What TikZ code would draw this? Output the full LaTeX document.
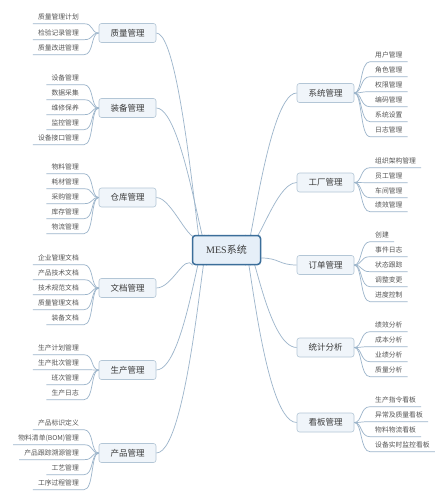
\documentclass[tikz,border=0pt]{standalone}
\usepackage{fontspec}
\usetikzlibrary{backgrounds}
\setmainfont{Liberation Serif}
\newfontfamily\cjk{Noto Sans CJK SC}
\definecolor{linkc}{HTML}{9CB5CB}
\definecolor{branchdraw}{HTML}{B3C6D6}
\definecolor{branchfill}{HTML}{F0F5FA}
\definecolor{branchtext}{HTML}{3A3A3A}
\definecolor{leaftext}{HTML}{555555}
\definecolor{rootdraw}{HTML}{3B6E9A}
\definecolor{rootfill}{HTML}{E6EFF8}
\tikzset{
  leafR/.style={font=\cjk\fontsize{6.8}{7}\selectfont, text=leaftext, anchor=west,
    inner xsep=5pt, inner ysep=3pt, text height=6pt, text depth=1pt},
  leafL/.style={leafR, anchor=east},
  branch/.style={draw=branchdraw, fill=branchfill, rounded corners=2.5pt, line width=0.6pt,
    minimum width=57pt, minimum height=19pt, font=\cjk\fontsize{8.5}{9}\selectfont,
    text=branchtext, inner sep=0pt},
  root/.style={draw=rootdraw, line width=1.5pt, fill=rootfill, rounded corners=3pt,
    minimum width=68pt, minimum height=29pt, font=\fontsize{10}{12}\selectfont,
    text=branchtext, inner sep=0pt},
  link/.style={draw=linkc, line width=0.7pt}
}
\newcommand\rleaves[2]{%
  \foreach \yy/\lbl [count=\i] in {#2}{%
    \node[leafR] (#1-\i) at (370,\yy) {\lbl};
    \draw[link] (#1.east) .. controls ([xshift=8pt]#1.east) and ([xshift=-10pt]#1-\i.south west) .. (#1-\i.south west) -- (#1-\i.south east);
  }}
\newcommand\lleaves[2]{%
  \foreach \yy/\lbl [count=\i] in {#2}{%
    \node[leafL] (#1-\i) at (84,\yy) {\lbl};
    \draw[link] (#1.west) .. controls ([xshift=-8pt]#1.west) and ([xshift=10pt]#1-\i.south east) .. (#1-\i.south east) -- (#1-\i.south west);
  }}
\begin{document}
\begin{tikzpicture}[x=1pt,y=-1pt]
\useasboundingbox (0,0) rectangle (447,500);
% root
\node[root] (mes) at (226.5,250) {MES{\cjk 系统}};
% branches
\node[branch] (qua) at (127.5,33) {质量管理};
\node[branch] (equ) at (127.5,108) {装备管理};
\node[branch] (war) at (127.5,197.5) {仓库管理};
\node[branch] (doc) at (127.5,288) {文档管理};
\node[branch] (pro) at (127.5,370) {生产管理};
\node[branch] (prd) at (127.5,453) {产品管理};
\node[branch] (sys) at (325.5,93) {系统管理};
\node[branch] (fac) at (325.5,182.5) {工厂管理};
\node[branch] (ord) at (325.5,265) {订单管理};
\node[branch] (sta) at (325.5,347.5) {统计分析};
\node[branch] (kan) at (325.5,422.5) {看板管理};
% root connectors
\begin{scope}[on background layer]
\fill[white] (0,0) rectangle (447,500);
\draw[link] ([xshift=-22pt]mes.north) .. controls ([xshift=-22pt,yshift=-120pt]mes.north) and ([xshift=30pt]qua.east) .. (qua.east);
\draw[link] ([xshift=-18pt]mes.north) .. controls ([xshift=-18pt,yshift=-70pt]mes.north) and ([xshift=30pt]equ.east) .. (equ.east);
\draw[link] ([xshift=-28pt]mes.north) .. controls ([xshift=-36pt,yshift=-14pt]mes.north) and ([xshift=16pt]war.east) .. (war.east);
\draw[link] ([xshift=-34pt]mes.south) .. controls ([xshift=-42pt,yshift=12pt]mes.south) and ([xshift=16pt]doc.east) .. (doc.east);
\draw[link] ([xshift=-24pt]mes.south) .. controls ([xshift=-24pt,yshift=55pt]mes.south) and ([xshift=30pt]pro.east) .. (pro.east);
\draw[link] ([xshift=-20pt]mes.south) .. controls ([xshift=-20pt,yshift=70pt]mes.south) and ([xshift=34pt]prd.east) .. (prd.east);
\draw[link] ([xshift=19pt]mes.north) .. controls ([xshift=19pt,yshift=-70pt]mes.north) and ([xshift=-32pt]sys.west) .. (sys.west);
\draw[link] ([xshift=25pt]mes.north) .. controls ([xshift=28pt,yshift=-25pt]mes.north) and ([xshift=-22pt]fac.west) .. (fac.west);
\draw[link] ([yshift=-8pt]mes.east) .. controls ([xshift=18pt,yshift=-8pt]mes.east) and ([xshift=-18pt]ord.west) .. (ord.west);
\draw[link] ([xshift=24pt]mes.south) .. controls ([xshift=24pt,yshift=40pt]mes.south) and ([xshift=-30pt]sta.west) .. (sta.west);
\draw[link] ([xshift=19pt]mes.south) .. controls ([xshift=19pt,yshift=65pt]mes.south) and ([xshift=-36pt]kan.west) .. (kan.west);
\end{scope}
% leaves
\rleaves{sys}{55/用户管理,70/角色管理,85/权限管理,100/编码管理,115/系统设置,130/日志管理}
\rleaves{fac}{161/组织架构管理,176/员工管理,191/车间管理,205/绩效管理}
\rleaves{ord}{235/创建,250/事件日志,265/状态跟踪,280/调整变更,295/进度控制}
\rleaves{sta}{325/绩效分析,340/成本分析,355/业绩分析,370/质量分析}
\rleaves{kan}{400/生产指令看板,415/异常及质量看板,430/物料物流看板,445/设备实时监控看板}
\lleaves{qua}{17/质量管理计划,33/检验记录管理,48/质量改进管理}
\lleaves{equ}{78/设备管理,93/数据采集,108/维修保养,123/监控管理,138/设备接口管理}
\lleaves{war}{167/物料管理,182/耗材管理,197/采购管理,212/库存管理,227/物流管理}
\lleaves{doc}{258/企业管理文档,273/产品技术文档,288/技术规范文档,303/质量管理文档,318/装备文档}
\lleaves{pro}{348/生产计划管理,363/生产批次管理,378/班次管理,393/生产日志}
\lleaves{prd}{423/产品标识定义,438/物料清单(BOM)管理,453/产品跟踪溯源管理,468/工艺管理,483/工序过程管理}
\end{tikzpicture}
\end{document}
